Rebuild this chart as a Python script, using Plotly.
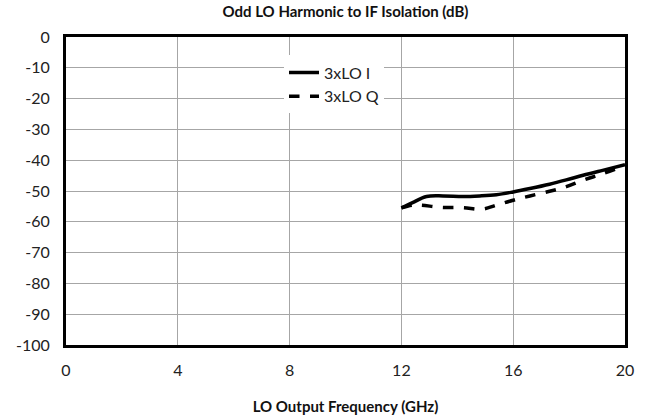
import plotly.graph_objects as go

# LO output frequency (GHz) and isolation (dB) for each channel
freq_i = [12.0, 12.4, 12.9, 13.5, 14.2, 14.8, 15.4, 16.0, 16.6, 17.3, 17.9, 18.5, 19.2, 20.0]
iso_i = [-55.5, -53.8, -51.8, -51.6, -51.8, -51.6, -51.2, -50.3, -49.2, -47.8, -46.4, -44.9, -43.3, -41.5]

freq_q = [12.0, 12.4, 12.7, 13.4, 14.2, 14.9, 15.4, 16.0, 16.6, 17.3, 17.9, 18.5, 19.2, 20.0]
iso_q = [-55.5, -54.6, -54.6, -55.3, -55.4, -55.9, -54.6, -53.0, -51.6, -50.1, -48.6, -46.5, -44.4, -41.8]

x_ticks = [0, 4, 8, 12, 16, 20]
y_ticks = [0, -10, -20, -30, -40, -50, -60, -70, -80, -90, -100]
y_labels = [str(v) for v in y_ticks]  # plain hyphen-minus labels

FONT = "Lato, 'Open Sans', sans-serif"

fig = go.Figure()
fig.add_trace(go.Scatter(x=freq_i, y=iso_i, mode="lines", name="3xLO I",
                         line=dict(color="black", width=3.5, shape="spline")))
fig.add_trace(go.Scatter(x=freq_q, y=iso_q, mode="lines", name="3xLO Q",
                         line=dict(color="black", width=3.5, dash="dash", shape="spline")))

fig.update_layout(
    width=652, height=419,
    margin=dict(l=66, r=27, t=37, b=74),
    paper_bgcolor="white", plot_bgcolor="white",
    font=dict(family=FONT, color="#222", size=16),
    title=dict(text="<b>Odd LO Harmonic to IF Isolation (dB)</b>",
               x=0.5, xanchor="center", xref="paper", y=0.972, yanchor="middle",
               font=dict(size=15, color="#111")),
    showlegend=True,
    legend=dict(x=0.39, y=0.94, xanchor="left", yanchor="top",
                bgcolor="white", borderwidth=0,
                font=dict(size=16, color="#222"), tracegroupgap=8),
    xaxis=dict(range=[0, 20], tickvals=x_ticks, showgrid=True, gridcolor="#a6a6a6",
               gridwidth=1, zeroline=False, showline=True, linecolor="black",
               linewidth=3, mirror=True, ticks="", ticklabelstandoff=9,
               tickfont=dict(size=16), automargin=False,
               title=dict(text="<b>LO Output Frequency (GHz)</b>", standoff=24,
                          font=dict(size=15, color="#111"))),
    yaxis=dict(range=[-100, 0], tickvals=y_ticks, ticktext=y_labels,
               showgrid=True, gridcolor="#a6a6a6",
               gridwidth=1, zeroline=False, showline=True, linecolor="black",
               linewidth=3, mirror=True, ticks="", ticklabelstandoff=10,
               tickfont=dict(size=16), automargin=False),
)

fig.write_html("out.html")
